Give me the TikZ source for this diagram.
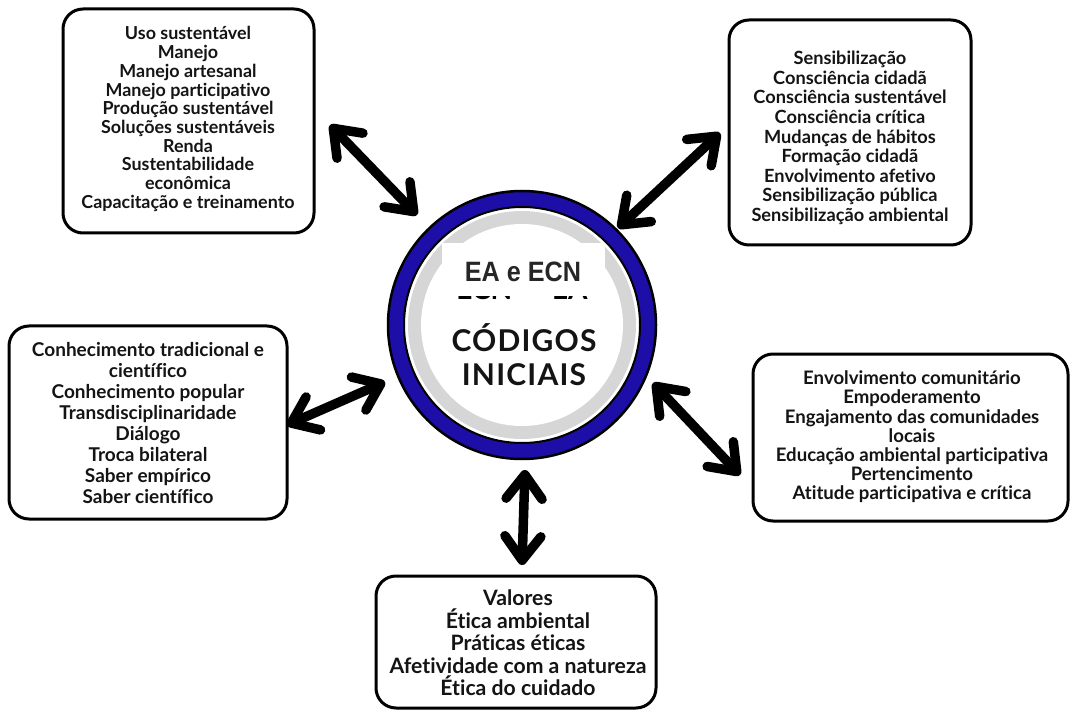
\documentclass[tikz,border=0pt]{standalone}
\usepackage{fontspec}
\setmainfont[Ligatures=NoCommon]{Lato}
\newfontfamily\arialfont{Liberation Sans}
\newfontfamily\centerfont[LetterSpace=4,Ligatures=NoCommon]{Lato}
\usetikzlibrary{arrows.meta}
\definecolor{ringblue}{RGB}{30,14,168}
\definecolor{ringgray}{RGB}{214,214,214}
\definecolor{txt}{RGB}{20,20,20}
\tikzset{
  box/.style={draw=black, line width=3pt, rounded corners=20pt, fill=white},
  boxtext/.style={align=center, inner sep=0pt, text=txt},
  dblarrow/.style={line width=9.5pt, line cap=round, line join=round,
    {Straight Barb[length=24pt,width=36pt,round]}-{Straight Barb[length=24pt,width=36pt,round]}},
}
\begin{document}
\begin{tikzpicture}[x=1pt,y=-1pt]
\useasboundingbox (0,0) rectangle (1071,711);
% boxes
\draw[box] (63,9) rectangle (314,233);
\node[boxtext, font=\fontsize{17.9}{18.7}\selectfont\bfseries] (t1) at (188,119) {Uso sustentável\\Manejo\\Manejo artesanal\\Manejo participativo\\Produção sustentável\\Soluções sustentáveis\\Renda\\Sustentabilidade\\econômica\\Capacitação e treinamento};
\draw[box] (729,20) rectangle (971,245);
\node[boxtext, font=\fontsize{18.2}{19.6}\selectfont\bfseries] (t2) at (850,138) {Sensibilização\\Consciência cidadã\\Consciência sustentável\\Consciência crítica\\Mudanças de hábitos\\Formação cidadã\\Envolvimento afetivo\\Sensibilização pública\\Sensibilização ambiental};
\draw[box] (753,354) rectangle (1068,521);
\node[boxtext, font=\fontsize{18.6}{19.2}\selectfont\bfseries] (t3) at (912,437) {Envolvimento comunitário\\Empoderamento\\Engajamento das comunidades\\locais\\Educação ambiental participativa\\Pertencimento\\Atitude participativa e crítica};
\draw[box] (9,326) rectangle (287,519);
\node[boxtext, font=\fontsize{19}{21}\selectfont\bfseries] (t4) at (148,423) {Conhecimento tradicional e\\científico\\Conhecimento popular\\Transdisciplinaridade\\Diálogo\\Troca bilateral\\Saber empírico\\Saber científico};
\draw[box] (376,576) rectangle (656,708);
\node[boxtext, font=\fontsize{21.2}{22.5}\selectfont\bfseries] (t5) at (518,643) {Valores\\Ética ambiental\\Práticas éticas\\Afetividade com a natureza\\Ética do cuidado};
% central circle
\coordinate (c) at (522,325);
\fill[ringblue, draw=black, line width=2.5pt] (c) circle (134);
\fill[white, draw=black, line width=2pt] (c) circle (118);
\fill[ringgray] (c) circle (114);
\fill[white] (c) circle (101);
\node[font=\fontsize{28}{28}\selectfont\bfseries, anchor=base] (rem) at (522,300) {ECN\hspace{40pt}EA};
\fill[white] (442,243) rectangle (605,296);
\node[font=\arialfont\fontsize{28}{28}\selectfont\bfseries, xscale=0.9, text=black!85] (ea) at (523,272) {EA e ECN};
\node[boxtext, font=\centerfont\fontsize{30}{34}\selectfont\bfseries] (cod) at (524,355) {CÓDIGOS\\INICIAIS};
% arrows
\coordinate (a1s) at (330,125); \coordinate (a1e) at (417,215);
\coordinate (a2s) at (720,133); \coordinate (a2e) at (618,228);
\coordinate (a3s) at (287,425); \coordinate (a3e) at (385,382);
\coordinate (a4s) at (653,383); \coordinate (a4e) at (740,475);
\coordinate (a5s) at (525,470); \coordinate (a5e) at (522,565);
\draw[dblarrow] (a1s) -- (a1e);
\draw[dblarrow] (a2s) -- (a2e);
\draw[dblarrow] (a3s) -- (a3e);
\draw[dblarrow] (a4s) -- (a4e);
\draw[dblarrow] (a5s) -- (a5e);
\end{tikzpicture}
\end{document}
